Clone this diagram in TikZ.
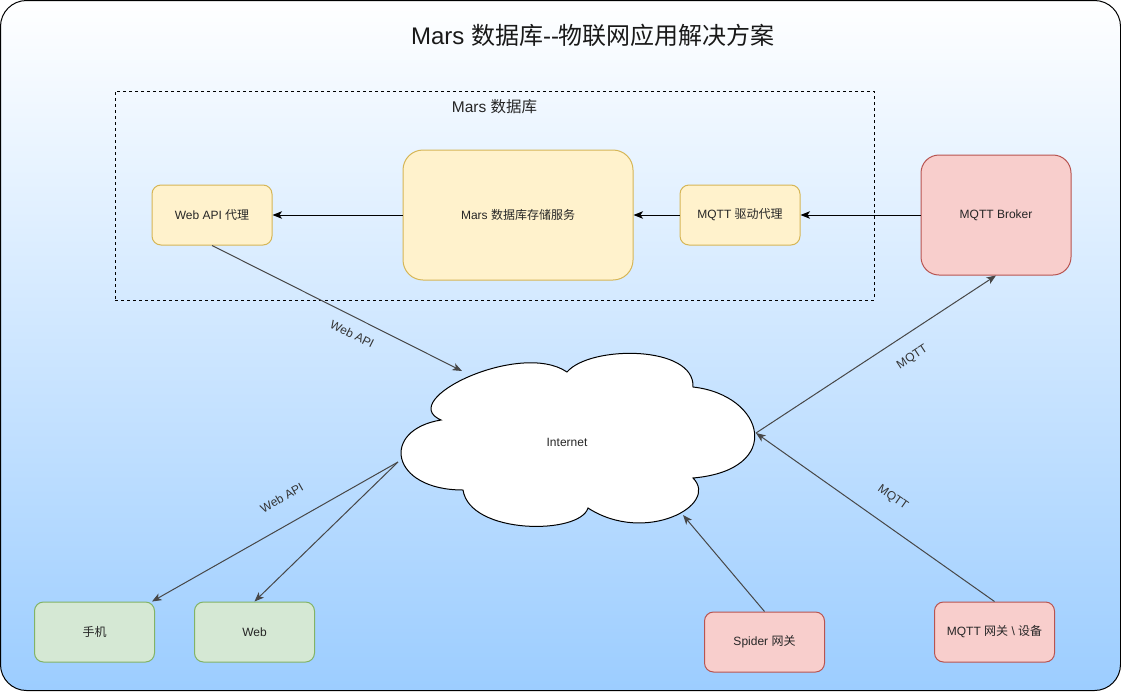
\documentclass[tikz,border=0pt]{standalone}
\usepackage{fontspec}
\setmainfont{Liberation Sans}[Ligatures=TeXOff]
\newfontfamily\cjk{Noto Sans CJK SC}
\usetikzlibrary{arrows.meta, positioning}

\definecolor{bgblue}{RGB}{156,205,255}
\definecolor{yfill}{HTML}{FFF2CC}
\definecolor{ydraw}{HTML}{D6B656}
\definecolor{rfill}{HTML}{F8CECC}
\definecolor{rdraw}{HTML}{B85450}
\definecolor{gfill}{HTML}{D5E8D4}
\definecolor{gdraw}{HTML}{82B366}

\begin{document}
\begin{tikzpicture}[
  x=1pt, y=-1pt,
  box/.style = {draw, line width=1pt, rounded corners=9pt, minimum width=120pt, minimum height=60pt, align=center, font=\fontsize{12}{14}\selectfont, text=black!85},
  ybox/.style = {box, fill=yfill, draw=ydraw},
  rbox/.style = {box, fill=rfill, draw=rdraw},
  gbox/.style = {box, fill=gfill, draw=gdraw},
  arrow/.style = {line width=1pt, -{Stealth[length=9.5pt, width=7.5pt, inset=2.5pt]}},
  link/.style = {arrow, draw=black!72},
  elabel/.style = {font=\fontsize{12}{14}\selectfont, text=black!80, sloped}
]
  \useasboundingbox (0,0) rectangle (1121,691);

  % background
  \shade[top color=white, bottom color=bgblue, rounded corners=26pt] (0.5,0.5) rectangle (1120.5,690.5);
  \draw[line width=1pt, rounded corners=26pt] (0.5,0.5) rectangle (1120.5,690.5);

  \node[font=\fontsize{24}{28}\selectfont, text=black!90] (title) at (593,35) {Mars {\cjk 数据库}--{\cjk 物联网应用解决方案}};

  % Mars database group
  \node[draw, line width=1pt, dash pattern=on 3pt off 3pt, minimum width=759pt, minimum height=209pt] (db) at (494.5,195.5) {};
  \node[below=5pt of db.north, font=\fontsize{15.5}{18}\selectfont, text=black!85] (dblabel) {Mars {\cjk 数据库}};

  \node[ybox, minimum width=230pt, minimum height=130pt, rounded corners=20pt] (storage) at (518,215) {Mars {\cjk 数据库存储服务}};
  \node[ybox, left=130pt of storage] (webapi) {Web API {\cjk 代理}};
  \node[ybox, right=46pt of storage] (mqttdrv) {MQTT {\cjk 驱动代理}};
  \node[rbox, minimum width=150pt, minimum height=120pt, rounded corners=18pt, right=120pt of mqttdrv] (broker) {MQTT Broker};

  % clients and gateways
  \node[gbox] (phone) at (94.5,632) {\cjk 手机};
  \node[gbox, right=39pt of phone] (web) {Web};
  \node[rbox] (spider) at (764.5,642) {Spider {\cjk 网关}};
  \node[rbox] (gateway) at (994.5,632) {MQTT {\cjk 网关} \textbackslash{} {\cjk 设备}};

  % Internet cloud
  \draw[line width=1pt, fill=white] (441,420)
    .. controls (395,400) and (520,340) .. (567,372)
    .. controls (590,345) and (695,345) .. (693,387)
    .. controls (765,395) and (785,470) .. (693,478)
    .. controls (720,505) and (645,545) .. (588,508)
    .. controls (580,535) and (470,535) .. (463,490)
    .. controls (390,490) and (380,430) .. (441,420) -- cycle;
  \node[font=\fontsize{12}{14}\selectfont, text=black!85] (internet) at (567,442) {Internet};
  \coordinate (inetNW) at (462,371);
  \coordinate (inetE) at (756,433);
  \coordinate (inetS) at (683,515);
  \coordinate (inetW) at (398,462);

  % connectors
  \draw[arrow] (storage) -- (webapi);
  \draw[arrow] (mqttdrv) -- (storage);
  \draw[arrow] (broker) -- (mqttdrv);

  \draw[link] (webapi.south) -- (inetNW) node[elabel, pos=0.59, below=8pt] {Web API};
  \draw[link] (inetE) -- (broker.south) node[elabel, pos=0.6, below=13.5pt] {MQTT};
  \draw[link] (gateway.north) -- (inetE) node[elabel, pos=0.49, above=17pt] {MQTT};
  \draw[link] (spider.north) -- (inetS);
  \draw[link] (inetW) -- ([xshift=-3pt]phone.north east) node[elabel, pos=0.42, above=18pt] {Web API};
  \draw[link] (inetW) -- (web.north);

\end{tikzpicture}
\end{document}
